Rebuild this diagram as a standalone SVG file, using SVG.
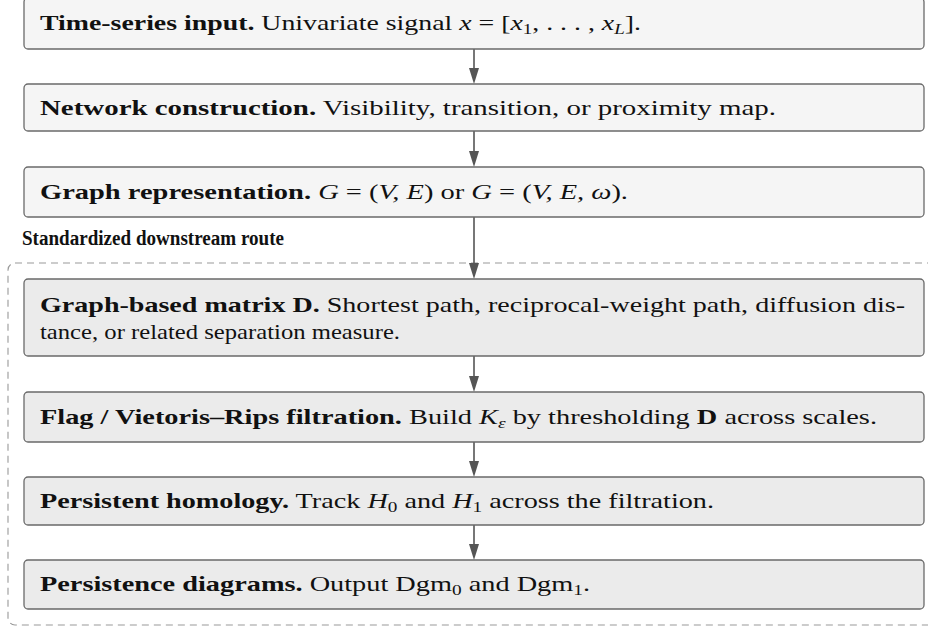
<svg xmlns="http://www.w3.org/2000/svg" width="928" height="627" viewBox="0 0 928 627">
<style>
.b1{fill:#f5f5f5;stroke:#6a6a6a;stroke-width:1.3}
.b2{fill:#ebebeb;stroke:#6a6a6a;stroke-width:1.3}
.t{font-family:"Liberation Serif","Times New Roman",serif;font-size:22px;fill:#111}
.bf{font-weight:bold}
.it{font-style:italic}
.sub{font-size:15px}
.lbl{font-family:"Liberation Serif","Times New Roman",serif;font-size:20px;font-weight:bold;fill:#111}
.route{fill:none;stroke:#999;stroke-width:1.1;stroke-dasharray:7 5}
</style>
<g id="route-frame">
<rect class="route" x="8" y="263" width="940" height="362" rx="7"/>
<text class="lbl" x="22" y="245" textLength="262" lengthAdjust="spacingAndGlyphs">Standardized downstream route</text>
</g>
<g id="connectors" fill="#555" stroke="#555" stroke-width="1.6">
<line x1="474" y1="49" x2="474" y2="70"/><path d="M469,68 L479,68 L474,84 Z" stroke="none"/>
<line x1="474" y1="131" x2="474" y2="153"/><path d="M469,151 L479,151 L474,167 Z" stroke="none"/>
<line x1="474" y1="217" x2="474" y2="265"/><path d="M469,263 L479,263 L474,279 Z" stroke="none"/>
<line x1="474" y1="356" x2="474" y2="378"/><path d="M469,376 L479,376 L474,392 Z" stroke="none"/>
<line x1="474" y1="442" x2="474" y2="463"/><path d="M469,461 L479,461 L474,477 Z" stroke="none"/>
<line x1="474" y1="525" x2="474" y2="546"/><path d="M469,544 L479,544 L474,560 Z" stroke="none"/>
</g>
<g id="n1">
<rect class="b1" x="24" y="-2" width="900" height="51" rx="4"/>
<text class="t" x="40" y="30" textLength="601" lengthAdjust="spacingAndGlyphs"><tspan class="bf">Time-series input.</tspan> Univariate signal <tspan class="it">x</tspan> = [<tspan class="it">x</tspan><tspan class="sub" dy="4">1</tspan><tspan dy="-4">, . . . , </tspan><tspan class="it">x</tspan><tspan class="sub it" dy="4">L</tspan><tspan dy="-4">].</tspan></text>
</g>
<g id="n2">
<rect class="b1" x="24" y="84" width="900" height="47" rx="4"/>
<text class="t" x="40" y="115" textLength="736" lengthAdjust="spacingAndGlyphs"><tspan class="bf">Network construction.</tspan> Visibility, transition, or proximity map.</text>
</g>
<g id="n3">
<rect class="b1" x="24" y="167" width="900" height="50" rx="4"/>
<text class="t" x="40" y="199" textLength="588" lengthAdjust="spacingAndGlyphs"><tspan class="bf">Graph representation.</tspan> <tspan class="it">G</tspan> = (<tspan class="it">V, E</tspan>) or <tspan class="it">G</tspan> = (<tspan class="it">V, E, ω</tspan>).</text>
</g>
<g id="n4">
<rect class="b2" x="24" y="279" width="900" height="77" rx="4"/>
<text class="t" x="40" y="312" textLength="865" lengthAdjust="spacingAndGlyphs"><tspan class="bf">Graph-based matrix D.</tspan> Shortest path, reciprocal-weight path, diffusion dis-</text>
<text class="t" x="40" y="339" textLength="360" lengthAdjust="spacingAndGlyphs">tance, or related separation measure.</text>
</g>
<g id="n5">
<rect class="b2" x="24" y="392" width="900" height="50" rx="4"/>
<text class="t" x="40" y="424" textLength="837" lengthAdjust="spacingAndGlyphs"><tspan class="bf">Flag / Vietoris–Rips filtration.</tspan> Build <tspan class="it">K</tspan><tspan class="sub it" dy="4">ε</tspan><tspan dy="-4"> by thresholding </tspan><tspan class="bf">D</tspan> across scales.</text>
</g>
<g id="n6">
<rect class="b2" x="24" y="477" width="900" height="48" rx="4"/>
<text class="t" x="40" y="508" textLength="674" lengthAdjust="spacingAndGlyphs"><tspan class="bf">Persistent homology.</tspan> Track <tspan class="it">H</tspan><tspan class="sub" dy="4">0</tspan><tspan dy="-4"> and </tspan><tspan class="it">H</tspan><tspan class="sub" dy="4">1</tspan><tspan dy="-4"> across the filtration.</tspan></text>
</g>
<g id="n7">
<rect class="b2" x="24" y="560" width="900" height="49" rx="4"/>
<text class="t" x="40" y="591" textLength="550" lengthAdjust="spacingAndGlyphs"><tspan class="bf">Persistence diagrams.</tspan> Output Dgm<tspan class="sub" dy="4">0</tspan><tspan dy="-4"> and Dgm</tspan><tspan class="sub" dy="4">1</tspan><tspan dy="-4">.</tspan></text>
</g>
</svg>
